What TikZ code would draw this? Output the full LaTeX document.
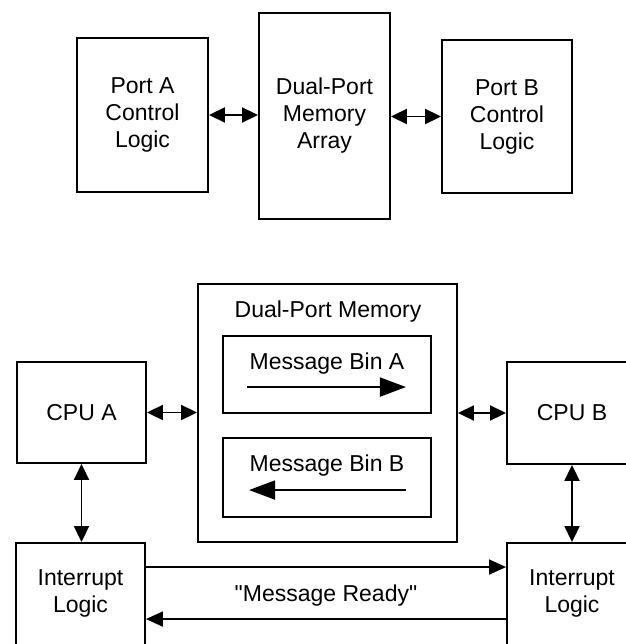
\documentclass[tikz,border=0pt]{standalone}
\usepackage{fontspec}
\setmainfont{Liberation Sans}
\usetikzlibrary{arrows.meta}

\tikzset{
	blk/.style={draw, line width=1.9pt, inner sep=0pt, align=center},
	arr/.style={line width=1.9pt, -{Triangle[length=17pt,width=15pt]}},
	dbl/.style={line width=1.9pt, {Triangle[length=16pt,width=15pt]}-{Triangle[length=16pt,width=15pt]}},
	binarr/.style={line width=1.9pt, -{Triangle[length=26pt,width=19pt]}},
}

\begin{document}
\begin{tikzpicture}[x=1pt, y=-1pt, font=\fontsize{23}{27}\selectfont]
	\useasboundingbox (0,0) rectangle (625,644);

	% top: dual-port memory and its two ports
	\node[blk, minimum width=131pt, minimum height=154pt] (portA) at (142.5,115) {Port A\\Control\\Logic};
	\node[blk, minimum width=131pt, minimum height=206pt] (dpma) at (324.5,116) {Dual-Port\\Memory\\Array};
	\node[blk, minimum width=130pt, minimum height=153pt] (portB) at (507,116.5) {Port B\\Control\\Logic};
	\draw[dbl] (portA.east) -- (portA.east -| dpma.west);
	\draw[dbl] (portB.west) -- (portB.west -| dpma.east);

	% bottom: message bins
	\node[blk, minimum width=259pt, minimum height=258pt] (dpm) at (327.5,413) {};
	\node[anchor=base] (dpmtitle) at (328,317) {Dual-Port Memory};
	\node[blk, minimum width=208pt, minimum height=77pt] (binA) at (327,374.5) {};
	\node[blk, minimum width=208pt, minimum height=79pt] (binB) at (327,477.5) {};
	\node[anchor=base] (binAtext) at (327,369) {Message Bin A};
	\node[anchor=base] (binBtext) at (327,471) {Message Bin B};
	\coordinate (aS) at ([xshift=25pt,yshift=-52pt]binA.north west);
	\coordinate (aE) at ([xshift=-26pt,yshift=-52pt]binA.north east);
	\coordinate (bS) at ([xshift=-26pt,yshift=-53pt]binB.north east);
	\coordinate (bE) at ([xshift=27pt,yshift=-53pt]binB.north west);
	\draw[binarr] (aS) -- (aE);
	\draw[binarr] (bS) -- (bE);

	\node[blk, minimum width=129pt, minimum height=101pt] (cpuA) at (81.5,412.5) {CPU A};
	\node[blk, minimum width=130pt, minimum height=102pt] (cpuB) at (572,413) {CPU B};
	\draw[dbl] (cpuA.east) -- (cpuA.east -| dpm.west);
	\draw[dbl] (cpuB.west) -- (cpuB.west -| dpm.east);

	\node[blk, minimum width=129pt, minimum height=137pt] (intA) at (80.5,611.5) {};
	\node[blk, minimum width=130pt, minimum height=137pt] (intB) at (572,611.5) {};
	\node[align=center] (intAtext) at (80.5,593.5) {Interrupt\\Logic};
	\node[align=center] (intBtext) at (572,593.5) {Interrupt\\Logic};
	\draw[dbl] (cpuA.south) -- (cpuA.south |- intA.north);
	\draw[dbl] (cpuB.south) -- (cpuB.south |- intB.north);

	\coordinate (rdyA) at ([yshift=-25pt]intA.north east);
	\coordinate (rdyB) at ([yshift=-77pt]intB.north west);
	\draw[arr] (rdyA) -- (rdyA -| intB.west);
	\draw[arr] (rdyB) -- (rdyB -| intA.east);
	\node[anchor=base] (ready) at (326,601) {\textquotedbl Message Ready\textquotedbl};
\end{tikzpicture}
\end{document}
